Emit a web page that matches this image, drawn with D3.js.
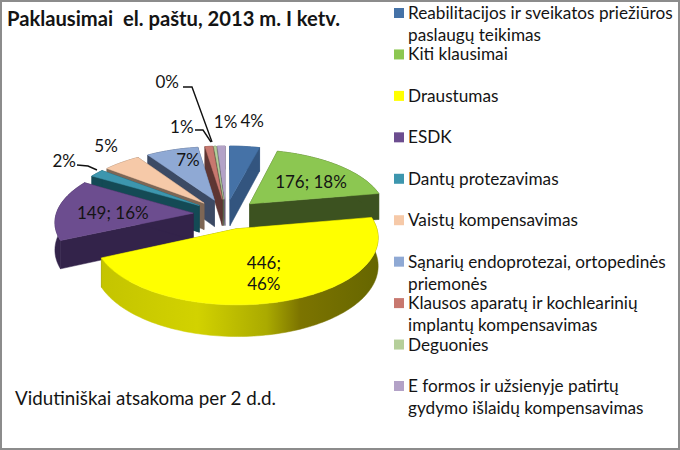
<!DOCTYPE html>
<html><head><meta charset="utf-8">
<script src="https://cdn.jsdelivr.net/npm/d3@7"></script>
<style>html,body{margin:0;padding:0;background:#fff}svg{display:block}text{font-family:Lato,"Open Sans","Noto Sans",sans-serif;fill:#141414}</style>
</head><body><svg id="c" width="680" height="450"></svg>
<script>
const categories=[
 ["Reabilitacijos ir sveikatos priežiūros","paslaugų teikimas"],["Kiti klausimai"],["Draustumas"],["ESDK"],["Dantų protezavimas"],["Vaistų kompensavimas"],
 ["Sąnarių endoprotezai, ortopedinės","priemonės"],["Klausos aparatų ir kochlearinių","implantų kompensavimas"],["Deguonies"],["E formos ir užsienyje patirtų","gydymo išlaidų kompensavimas"]];
const values=[39,176,446,149,19,49,68,10,3,10];
const dataLabels=[["4%"],["176; 18%"],["446;","46%"],["149; 16%"],["2%"],["5%"],["7%"],["1%"],["0%"],["1%"]];
const topColors=["#4572a7","#8cc751","#ffff00","#6c4d8f","#3d96ae","#f6c9a8","#8fa9d4","#c8786f","#b5cf9a","#b3a2c7"];
const wallColors=["#33557f","#3c5220","#666600","#33234a","#144a55","#7d6655","#3c4a64","#5e3633","#56654a","#6a5f78"];
const titleText="Paklausimai  el. paštu, 2013 m. I ketv.";
const noteText="Vidutiniškai atsakoma per 2 d.d.";

const svg=d3.select("#c");
const W=680,H=450;
svg.append("rect").attr("x",1).attr("y",1).attr("width",W-2).attr("height",H-2).attr("fill","#fff").attr("stroke","#8c8c8c").attr("stroke-width",2);

const cx=226,cy=214,R=137,k=.46,p=.12,explode=.24,depth=27;
const project=(X,Z,h=0)=>{const f=1/(1-p*Z);return [cx+X*R*f, cy+Z*R*k*f+h*f];};
const pie=d3.pie().sort(null).value(d=>d)(values);
const pt=(d,a,r,h=0)=>{const m=(d.startAngle+d.endAngle)/2;
  const X=explode*Math.sin(m)+r*Math.sin(a),Z=-explode*Math.cos(m)-r*Math.cos(a);return project(X,Z,h);};
const arcPts=(d,h)=>{const n=Math.max(3,Math.ceil((d.endAngle-d.startAngle)*40));
  return d3.range(n+1).map(i=>pt(d,d.startAngle+(d.endAngle-d.startAngle)*i/n,1,h));};
const line=d3.line();

const defs=svg.append("defs");
const grad=defs.append("linearGradient").attr("id","yw").attr("gradientUnits","userSpaceOnUse").attr("x1",100).attr("x2",378).attr("y1",0).attr("y2",0);
[[0,"#c4c400"],[.35,"#d2d200"],[.6,"#aaaa00"],[.72,"#7c7400"],[1,"#666600"]].forEach(s=>grad.append("stop").attr("offset",s[0]).attr("stop-color",s[1]));

const order=pie.map((d,i)=>({d,i})).sort((a,b)=>{
  const z=o=>{const m=(o.d.startAngle+o.d.endAngle)/2;return -Math.cos(m)*(explode+.5);};return z(a)-z(b);});
const g=svg.append("g");
order.forEach(({d,i})=>{
  const wall=i===2?"url(#yw)":wallColors[i];
  const top=arcPts(d,0),bot=arcPts(d,depth),apexT=pt(d,0,0,0),apexB=pt(d,0,0,depth);
  const cuts=[[apexT,top[0],bot[0],apexB],[apexT,top[top.length-1],bot[bot.length-1],apexB]];
  cuts.forEach(c=>g.append("path").attr("d",line(c)+"Z").attr("fill",i===2?"#666600":wallColors[i]).attr("stroke",i===2?"#666600":wallColors[i]).attr("stroke-width",.5));
  g.append("path").attr("d",line(top.concat(bot.slice().reverse()))+"Z").attr("fill",wall).attr("stroke",wall).attr("stroke-width",.5);
  g.append("path").attr("d",line([apexT].concat(top))+"Z").attr("fill",topColors[i]).attr("stroke",topColors[i]).attr("stroke-width",.5);
});
// labels, placed relative to each slice's projected centre
const labelOffsets=[[13,-45],[6,2],[0,3],[1,2],[-72,-25],[-47,-32],[0,-9],[-32,-39],[-51,-84],[3,-44]];
const fs=17;
const centres=pie.map(d=>{const m=(d.startAngle+d.endAngle)/2;return pt(d,m,.6);});
pie.forEach((d,i)=>{
  const c=centres[i],o=labelOffsets[i];
  const t=svg.append("text").attr("font-size",fs).attr("text-anchor","middle");
  dataLabels[i].forEach((s,j)=>t.append("tspan").attr("x",c[0]+o[0]).attr("y",c[1]+o[1]+j*21-(dataLabels[i].length-1)*10+6).text(s));
});
// leader lines
[[8,[[183,87],[192,87],[212,142]]],[7,[[195,130],[203,130],[211,142]]],[4,[[77,165],[88,166],[97,170]]]].forEach(([i,pts])=>{
  svg.append("path").attr("d",line(pts)).attr("fill","none").attr("stroke","#111").attr("stroke-width",1.4);});

svg.append("text").attr("x",7).attr("y",26).attr("font-size",20.2).attr("font-weight",700).style("white-space","pre").attr("xml:space","preserve").text(titleText);
svg.append("text").attr("x",15).attr("y",405).attr("font-size",18.8).text(noteText);

const ly=d3.scaleLinear().domain([0,categories.length-1]).range([13,386]);
const leg=svg.append("g");
categories.forEach((c,i)=>{
  leg.append("rect").attr("x",394).attr("y",ly(i)-5).attr("width",10).attr("height",10).attr("fill",topColors[i]);
  c.forEach((s,j)=>leg.append("text").attr("x",408).attr("y",ly(i)+6+j*22).attr("font-size",17.2).text(s));
});
</script></body></html>
